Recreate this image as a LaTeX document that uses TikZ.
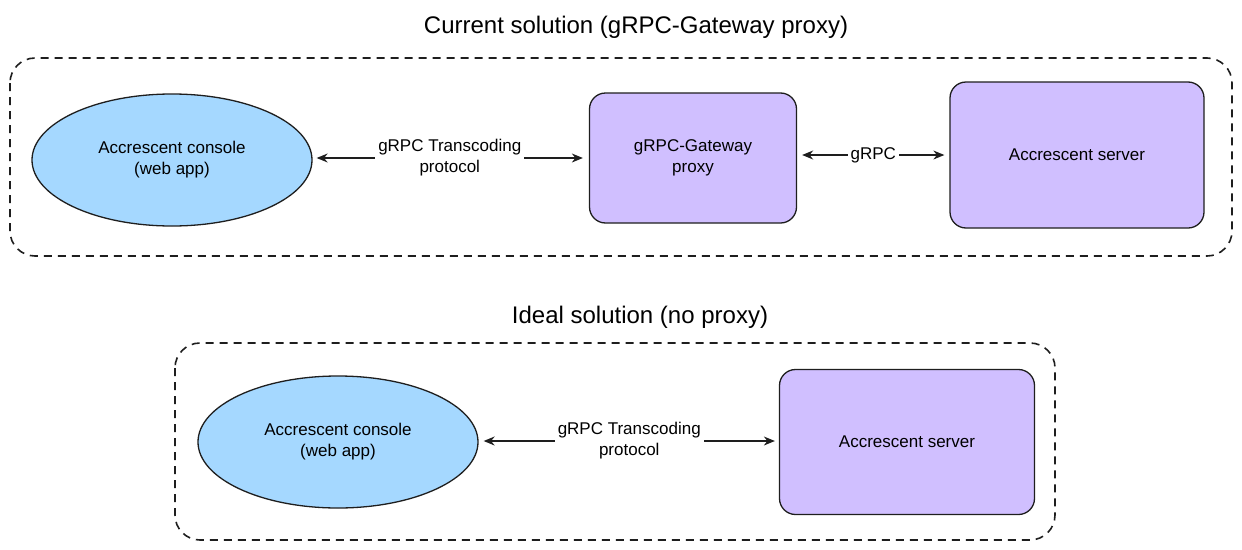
\documentclass[tikz,border=0pt]{standalone}
\usepackage{fontspec}
\setmainfont{Liberation Sans}
\usetikzlibrary{shapes.geometric,arrows.meta,calc}
\definecolor{ellblue}{HTML}{A5D8FF}
\definecolor{boxpurple}{HTML}{D0BFFF}
\definecolor{ink}{HTML}{1E1E1E}
\begin{document}
\begin{tikzpicture}[x=1pt,y=-1pt,
  frame/.style={draw=ink,line width=1.6pt,rounded corners=25pt,dash pattern=on 8pt off 6pt},
  ell/.style={ellipse,draw=ink,line width=1.3pt,fill=ellblue,minimum width=280pt,minimum height=132pt,font=\fontsize{17}{21}\selectfont,align=center},
  pbox/.style={draw=ink,line width=1.3pt,fill=boxpurple,rounded corners=16pt,font=\fontsize{17}{21}\selectfont,align=center},
  conn/.style={{Stealth[length=11pt,width=9pt]}-{Stealth[length=11pt,width=9pt]},line width=1.3pt,draw=ink},
  lbl/.style={fill=white,font=\fontsize{17}{21}\selectfont,align=center,inner sep=3pt},
  ttl/.style={font=\fontsize{24}{28}\selectfont}]
\useasboundingbox (0,0) rectangle (1242,549);
\node[ttl] (t1) at (636,27) {Current solution (gRPC-Gateway proxy)};
\draw[frame] (10,58) rectangle (1232,256);
\node[ell] (c1) at (172,160) {Accrescent console\\(web app)};
\node[pbox,minimum width=207pt,minimum height=130pt] (g) at (693,158) {gRPC-Gateway\\proxy};
\node[pbox,minimum width=254pt,minimum height=146pt] (s1) at (1077,155) {Accrescent server};
\draw[conn] ($(c1.east |- 0,158)+(4,0)$) -- node[lbl]{gRPC Transcoding\\protocol} ($(g.west |- 0,158)+(-6,0)$);
\draw[conn] ($(g.east |- 0,155)+(5,0)$) -- node[lbl]{gRPC} ($(s1.west |- 0,155)+(-5,0)$);
\node[ttl] (t2) at (640,317) {Ideal solution (no proxy)};
\draw[frame] (175,343) rectangle (1055,540);
\node[ell] (c2) at (338,442) {Accrescent console\\(web app)};
\node[pbox,minimum width=255pt,minimum height=145pt] (s2) at (907,442) {Accrescent server};
\draw[conn] ($(c2.east |- 0,441)+(5,0)$) -- node[lbl]{gRPC Transcoding\\protocol} ($(s2.west |- 0,441)+(-4,0)$);
\end{tikzpicture}
\end{document}
